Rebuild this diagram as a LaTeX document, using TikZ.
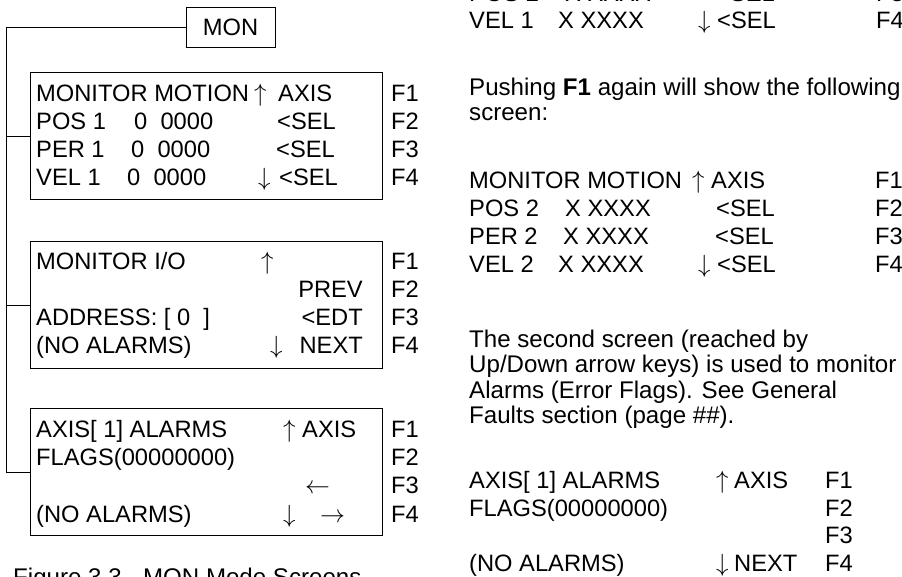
\documentclass[tikz,border=0pt]{standalone}
\usepackage{fontspec}
\setmainfont{Liberation Sans}
\newcommand{\scrfont}{\fontsize{23.7}{28}\selectfont}
\newcommand{\parfont}{\fontsize{24.1}{28}\selectfont}
\newcommand{\myup}{$\uparrow$}
\newcommand{\mydn}{$\downarrow$}
\newcommand{\mylf}{$\leftarrow$}
\newcommand{\myrt}{$\rightarrow$}
\begin{document}
\begin{tikzpicture}[x=1pt,y=-1pt,
  txt/.style={anchor=base west,inner sep=0pt,font=\scrfont},
  txr/.style={anchor=base east,inner sep=0pt,font=\scrfont},
  ptxt/.style={anchor=base west,inner sep=0pt,font=\parfont},
  scrbox/.style={draw,line width=0.9pt,anchor=north west,inner sep=0pt,minimum width=352.5pt,minimum height=127pt},
  conn/.style={line width=0.9pt}]
\useasboundingbox (0,0) rectangle (902,576);
\clip (0,0) rectangle (902,576);
% MON box and screens
\node[draw,line width=0.9pt,minimum width=89pt,minimum height=40pt,inner sep=0pt,font=\scrfont] (mon) at (230.5,27.5) {MON};
\node[scrbox] (b1) at (29.5,72) {};
\node[scrbox] (b2) at (29.5,241) {};
\node[scrbox] (b3) at (29.5,408) {};
\coordinate (tk) at (6,27.5);
\draw[conn] (mon.west) -- (tk) |- (b3.west);
\draw[conn] (b1.west) -- (b1.west -| tk);
\draw[conn] (b2.west) -- (b2.west -| tk);
% box 1
\node[txt] (a1) at (36,101) {MONITOR MOTION};
\node[txt] (a1u) at (254,101) {\myup};
\node[txt] (a1x) at (278,101) {AXIS};
\node[txt] (a2) at (36,129) {POS 1};
\node[txt] (a2v) at (134,129) {0\ \ 0000};
\node[txt] (a2s) at (277,129) {<SEL};
\node[txt] (a3) at (36,157) {PER 1};
\node[txt] (a3v) at (131,157) {0\ \ 0000};
\node[txt] (a3s) at (276,157) {<SEL};
\node[txt] (a4) at (36,185) {VEL 1};
\node[txt] (a4v) at (127,185) {0\ \ 0000};
\node[txt] (a4d) at (258,185) {\mydn};
\node[txt] (a4s) at (279,185) {<SEL};
\node[txt] (af1) at (391,101) {F1};
\node[txt] (af2) at (391,129) {F2};
\node[txt] (af3) at (391,157) {F3};
\node[txt] (af4) at (391,185) {F4};
% box 2
\node[txt] (c1) at (36,269) {MONITOR I/O};
\node[txt] (c1u) at (261,269) {\myup};
\node[txr] (c2) at (363,297) {PREV};
\node[txt] (c3) at (36,325) {ADDRESS: [ 0\ \ ]};
\node[txr] (c3e) at (363,325) {<EDT};
\node[txt] (c4) at (36,353) {(NO ALARMS)};
\node[txt] (c4d) at (270,353) {\mydn};
\node[txr] (c4n) at (363,353) {NEXT};
\node[txt] (cf1) at (391,269) {F1};
\node[txt] (cf2) at (391,297) {F2};
\node[txt] (cf3) at (391,325) {F3};
\node[txt] (cf4) at (391,353) {F4};
% box 3
\node[txt] (d1) at (36,437) {AXIS[ 1] ALARMS};
\node[txt] (d1u) at (283,437) {\myup};
\node[txt] (d1x) at (302,437) {AXIS};
\node[txt] (d2) at (36,465) {FLAGS(00000000)};
\node[txt] (d3l) at (305,493) {\mylf};
\node[txt] (d4) at (36,522) {(NO ALARMS)};
\node[txt] (d4d) at (283,522) {\mydn};
\node[txt] (d4r) at (320,522) {\myrt};
\node[txt] (df1) at (391,437) {F1};
\node[txt] (df2) at (391,465) {F2};
\node[txt] (df3) at (391,493) {F3};
\node[txt] (df4) at (391,522) {F4};
% caption
\node[ptxt] (cap) at (13,585) {Figure 3.3 - MON Mode Screens};
% right column
\node[txt] (r0) at (469,1) {POS 2};
\node[txt] (r0v) at (565,1) {X XXXX};
\node[txt] (r0s) at (716,1) {<SEL};
\node[txt] (r0f) at (876,1) {F3};
\node[txt] (r1) at (469,28) {VEL 1};
\node[txt] (r1v) at (558,28) {X XXXX};
\node[txt] (r1d) at (698,28) {\mydn};
\node[txt] (r1s) at (717,28) {<SEL};
\node[txt] (r1f) at (876,28) {F4};
\node[ptxt] (p1) at (469,95) {Pushing \textbf{F1} again will show the following};
\node[ptxt] (p1b) at (469,120) {screen:};
\node[txt] (m1) at (469,188) {MONITOR MOTION};
\node[txt] (m1u) at (692,188) {\myup};
\node[txt] (m1x) at (711,188) {AXIS};
\node[txt] (m1f) at (875,188) {F1};
\node[txt] (m2) at (469,216) {POS 2};
\node[txt] (m2v) at (565,216) {X XXXX};
\node[txt] (m2s) at (716,216) {<SEL};
\node[txt] (m2f) at (875,216) {F2};
\node[txt] (m3) at (469,244) {PER 2};
\node[txt] (m3v) at (563,244) {X XXXX};
\node[txt] (m3s) at (715,244) {<SEL};
\node[txt] (m3f) at (875,244) {F3};
\node[txt] (m4) at (469,272) {VEL 2};
\node[txt] (m4v) at (558,272) {X XXXX};
\node[txt] (m4d) at (698,272) {\mydn};
\node[txt] (m4s) at (717,272) {<SEL};
\node[txt] (m4f) at (875,272) {F4};
\node[ptxt] (q1) at (469,347) {The second screen (reached by};
\node[ptxt] (q2) at (469,372.5) {Up/Down arrow keys) is used to monitor};
\node[ptxt] (q3) at (469,398) {Alarms (Error Flags). See General};
\node[ptxt] (q4) at (469,423.5) {Faults section (page \#\#).};
\node[txt] (s1) at (469,488) {AXIS[ 1] ALARMS};
\node[txt] (s1u) at (716,488) {\myup};
\node[txt] (s1x) at (734,488) {AXIS};
\node[txt] (s1f) at (825,488) {F1};
\node[txt] (s2) at (469,516) {FLAGS(00000000)};
\node[txt] (s2f) at (825,516) {F2};
\node[txt] (s3f) at (825,543) {F3};
\node[txt] (s4) at (469,571) {(NO ALARMS)};
\node[txt] (s4d) at (716,571) {\mydn};
\node[txt] (s4n) at (734,571) {NEXT};
\node[txt] (s4f) at (825,571) {F4};
\end{tikzpicture}
\end{document}
